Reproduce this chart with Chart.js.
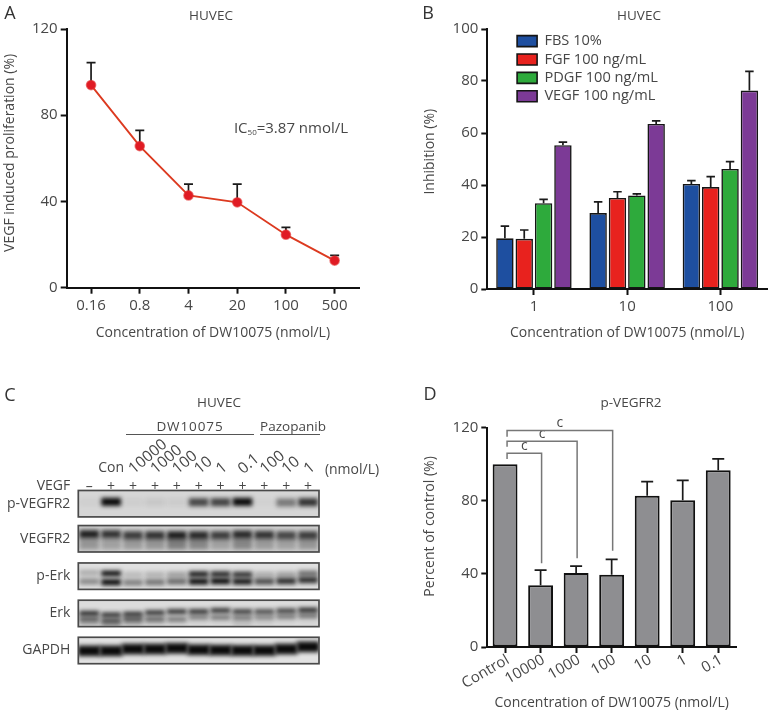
<!DOCTYPE html>
<html>
<head>
<meta charset="utf-8">
<title>DW10075 HUVEC panels</title>
<script src="https://cdn.jsdelivr.net/npm/chart.js@4/dist/chart.umd.js"></script>
<style>
  html, body { margin: 0; padding: 0; background: #fff; }
  body { position: relative; width: 773px; height: 715px; overflow: hidden; font-family: "Open Sans", sans-serif; color: #474747; }
  canvas { position: absolute; filter: blur(0.35px); }
  .t { position: absolute; transform: translate(-50%, -50%); font-size: 13.5px; white-space: nowrap; filter: blur(0.25px); }
  .letter { font-size: 18px; color: #333; }
  .rule { position: absolute; height: 1.4px; background: #555; }
  sub { font-size: 8px; vertical-align: baseline; position: relative; top: 2px; }
</style>
</head>
<body>
<canvas id="chartA" width="395" height="345" style="left:0;top:0"></canvas>
<canvas id="chartB" width="353" height="345" style="left:420px;top:0"></canvas>
<canvas id="chartC" width="395" height="300" style="left:0;top:385px"></canvas>
<canvas id="chartD" width="353" height="315" style="left:420px;top:400px"></canvas>

<div class="t letter" style="left:10px;top:12px">A</div>
<div class="t letter" style="left:428px;top:12px">B</div>
<div class="t letter" style="left:10px;top:394px">C</div>
<div class="t letter" style="left:430px;top:393px">D</div>
<div class="t" style="left:211px;top:15px">HUVEC</div>
<div class="t" style="left:639px;top:15px">HUVEC</div>
<div class="t" style="left:219px;top:402px">HUVEC</div>
<div class="t" style="left:631px;top:402px">p-VEGFR2</div>
<div class="t" style="left:291px;top:127px;font-size:15px">IC<sub>50</sub>=3.87 nmol/L</div>
<div class="t" style="left:190px;top:426px;letter-spacing:0.9px">DW10075</div>
<div class="t" style="left:293px;top:426px">Pazopanib</div>
<div class="rule" style="left:126px;top:434px;width:128px"></div>
<div class="rule" style="left:260px;top:434px;width:60px"></div>
<div class="t" style="left:53.5px;top:484px;font-size:14px">VEGF</div>
<div class="t" style="left:352px;top:468px;font-size:14px">(nmol/L)</div>

<script>
// Panel A
const doseLabelsA = ["0.16", "0.8", "4", "20", "100", "500"];
const proliferation = [94, 65.7, 42.8, 39.6, 24.6, 12.6];
const proliferationErr = [10.4, 7.3, 5.2, 8.4, 3.4, 2.4];

// Panel B
const doseLabelsB = ["1", "10", "100"];
const fbsValues = [19.5, 29.2, 40.4];
const fgfValues = [19.3, 35, 39.2];
const pdgfValues = [33, 36, 46.2];
const vegfValues = [55.3, 63.5, 76.3];
const fbsErr = [4.7, 4.3, 1.3];
const fgfErr = [3.4, 2.4, 4];
const pdgfErr = [1.5, 0.6, 2.8];
const vegfErr = [1.2, 1.2, 7.4];

// Panel D
const doseLabelsD = ["Control", "10000", "1000", "100", "10", "1", "0.1"];
const percentControl = [100, 33.8, 40.5, 39.6, 82.8, 80.3, 96.7];
const percentErr = [0, 8.3, 3.8, 8.4, 7.7, 10.9, 6.2];
const bracketTo = [1, 2, 3];
const bracketTop = [106, 112.6, 118.5];
const bracketLeftEnd = [102.9, 109.6, 115];
const bracketRightEnd = [45.8, 48.5, 52.7];

// Panel C, lane labels and band darkness (0-1) per lane
const vegfSigns = ["–", "+", "+", "+", "+", "+", "+", "+", "+", "+", "+"];
const laneLabels = ["", "Con", "10000", "1000", "100", "10", "1", "0.1", "100", "10", "1"];
const blotNames = ["p-VEGFR2", "VEGFR2", "p-Erk", "Erk", "GAPDH"];
const blotCenters = [0, 0.956, 1.975, 2.99, 4];
const pVegfr2Level = [0.03, 1, 0.04, 0.07, 0.05, 0.7, 0.72, 1, 0.02, 0.46, 0.8];
const pVegfr2Y = [-0.04, -0.05, -0.04, -0.04, -0.04, -0.04, -0.04, -0.05, -0.04, -0.03, -0.04];
const vegfr2Level = [0.9, 0.8, 0.75, 0.8, 0.9, 0.85, 0.75, 0.85, 0.8, 0.7, 0.75];
const vegfr2Y = [0.83, 0.83, 0.86, 0.86, 0.86, 0.86, 0.86, 0.84, 0.85, 0.86, 0.86];
const vegfr2SmearLevel = [0.3, 0.25, 0.28, 0.3, 0.42, 0.38, 0.25, 0.38, 0.28, 0.25, 0.3];
const vegfr2SmearY = [1.09, 1.09, 1.09, 1.09, 1.09, 1.09, 1.09, 1.09, 1.09, 1.09, 1.09];
const pErkUpperLevel = [0.25, 1, 0.18, 0.22, 0.3, 0.95, 0.9, 0.85, 0.25, 0.3, 0.55];
const pErkUpperY = [1.88, 1.9, 1.93, 1.93, 1.93, 1.92, 1.92, 1.93, 1.93, 1.93, 1.9];
const pErkLowerLevel = [0.4, 1, 0.45, 0.5, 0.55, 1, 1, 0.95, 0.7, 0.85, 0.85];
const pErkLowerY = [2.12, 2.14, 2.15, 2.14, 2.12, 2.12, 2.11, 2.12, 2.12, 2.11, 2.08];
const erkUpperLevel = [0.9, 0.85, 0.85, 0.85, 0.85, 0.85, 0.85, 0.8, 0.72, 0.78, 0.9];
const erkUpperY = [2.99, 3.03, 3.01, 2.97, 2.94, 2.94, 2.91, 2.94, 2.94, 2.92, 2.9];
const erkLowerLevel = [0.65, 0.72, 0.68, 0.6, 0.5, 0.45, 0.5, 0.5, 0.42, 0.48, 0.52];
const erkLowerY = [3.15, 3.19, 3.15, 3.15, 3.15, 3.1, 3.1, 3.11, 3.1, 3.08, 3.06];
const erkFaintLevel = [0.3, 0.45, 0.3, 0.12, 0.05, 0.05, 0.05, 0.22, 0.1, 0.05, 0.05];
const erkFaintY = [3.26, 3.29, 3.26, 3.26, 3.26, 3.26, 3.26, 3.27, 3.26, 3.26, 3.26];
const gapdhLevel = [1, 1, 1, 1, 1, 1, 1, 1, 1, 1, 1];
const gapdhY = [4.01, 4.01, 3.96, 3.96, 3.94, 3.98, 3.99, 4.0, 4.0, 3.96, 3.9];

const textColor = "#474747";
const axisColor = "#111";
const fontFamily = "'Open Sans', sans-serif";
const baseFont = { family: fontFamily, size: 14 };
const tickFont = { family: fontFamily, size: 15 };
const xTitle = "Concentration of DW10075 (nmol/L)";

// force the axis boxes so the plot area lands where it does in the figure
function fixedX(height) { return function (scale) { scale.height = height; }; }
function fixedY(width) { return function (scale) { scale.width = width; }; }

function xAxis(height, extraTicks) {
  return {
    type: "category",
    offset: true,
    afterFit: fixedX(height),
    grid: { drawOnChartArea: false, offset: false, color: axisColor, tickColor: axisColor, tickLength: 6, tickWidth: 2 },
    border: { color: axisColor, width: 2 },
    ticks: Object.assign({ color: textColor, font: tickFont, padding: 3, autoSkip: false, maxRotation: 0 }, extraTicks),
    title: { display: true, text: xTitle, color: textColor, font: baseFont, padding: { top: 0, bottom: 4 } },
  };
}

// lift = leading spaces, the y titles sit a little above the plot centre
function yAxis(width, max, step, title, lift) {
  return {
    min: 0,
    max: max,
    afterFit: fixedY(width),
    grid: { drawOnChartArea: false, color: axisColor, tickColor: axisColor, tickLength: 6, tickWidth: 2 },
    border: { color: axisColor, width: 2 },
    ticks: { stepSize: step, color: textColor, font: tickFont, padding: 3 },
    title: { display: true, text: " ".repeat(lift) + title, color: textColor, font: baseFont, padding: { top: 2, bottom: 0 } },
  };
}

// upward error bars, taken from each dataset's errorBars array
const errorBarPlugin = {
  id: "errorBars",
  beforeDatasetsDraw(chart) {
    const ctx = chart.ctx;
    const y = chart.scales.y;
    chart.data.datasets.forEach((ds, d) => {
      if (!ds.errorBars) return;
      chart.getDatasetMeta(d).data.forEach((el, i) => {
        if (!ds.errorBars[i]) return;
        const top = y.getPixelForValue(ds.data[i] + ds.errorBars[i]);
        const half = ds.errorCap / 2;
        ctx.save();
        ctx.strokeStyle = "#1a1a1a";
        ctx.lineWidth = 1.7;
        ctx.beginPath();
        ctx.moveTo(el.x, y.getPixelForValue(ds.data[i]));
        ctx.lineTo(el.x, top);
        ctx.moveTo(el.x - half, top);
        ctx.lineTo(el.x + half, top);
        ctx.stroke();
        ctx.restore();
      });
    });
  },
};

new Chart(document.getElementById("chartA"), {
  type: "line",
  data: {
    labels: doseLabelsA,
    datasets: [{
      data: proliferation,
      errorBars: proliferationErr,
      errorCap: 9,
      borderColor: "#dc3a20",
      borderWidth: 1.9,
      tension: 0,
      pointRadius: 4.6,
      pointBorderWidth: 1.5,
      pointBackgroundColor: "#e01b24",
      pointBorderColor: "rgba(226,50,50,0.6)",
    }],
  },
  options: {
    responsive: false,
    animation: false,
    layout: { padding: { top: 29, right: 36 } },
    plugins: { legend: { display: false }, tooltip: { enabled: false } },
    scales: {
      x: xAxis(57.3),
      y: yAxis(66.7, 120, 40, "VEGF induced proliferation (%)", 3),
    },
  },
  plugins: [errorBarPlugin],
});

function barSet(label, values, errs, color) {
  return {
    label: label,
    data: values,
    errorBars: errs,
    errorCap: 8.5,
    backgroundColor: color,
    borderColor: "#151515",
    borderWidth: 1.6,
    borderSkipped: false,
    categoryPercentage: 0.83,
    barPercentage: 0.9,
  };
}

new Chart(document.getElementById("chartB"), {
  type: "bar",
  data: {
    labels: doseLabelsB,
    datasets: [
      barSet("FBS 10%", fbsValues, fbsErr, "#1e4fa0"),
      barSet("FGF 100 ng/mL", fgfValues, fgfErr, "#e8221e"),
      barSet("PDGF 100 ng/mL", pdgfValues, pdgfErr, "#2eaa3c"),
      barSet("VEGF 100 ng/mL", vegfValues, vegfErr, "#7c3a96"),
    ],
  },
  options: {
    responsive: false,
    animation: false,
    layout: { padding: { top: 29, right: 6 } },
    plugins: {
      tooltip: { enabled: false },
      legend: {
        position: "chartArea",
        align: "start",
        labels: { boxWidth: 20, boxHeight: 11, padding: 3.8, color: textColor, font: { family: fontFamily, size: 14.6 } },
      },
    },
    scales: {
      x: xAxis(56),
      y: yAxis(67.3, 100, 20, "Inhibition (%)", 4),
    },
  },
  plugins: [errorBarPlugin, {
    id: "legendShift",
    afterLayout(chart) {
      chart.legend.left += 26;
      chart.legend.top += 30;
    },
  }],
});

new Chart(document.getElementById("chartD"), {
  type: "bar",
  data: {
    labels: doseLabelsD,
    datasets: [{
      data: percentControl,
      errorBars: percentErr,
      errorCap: 12,
      backgroundColor: "#8e8e91",
      borderColor: "#111",
      borderWidth: 2,
      borderSkipped: false,
      categoryPercentage: 1,
      barPercentage: 0.7,
    }],
  },
  options: {
    responsive: false,
    animation: false,
    layout: { padding: { top: 27.7, right: 37 } },
    plugins: { legend: { display: false }, tooltip: { enabled: false } },
    scales: {
      x: xAxis(68, { minRotation: 30, maxRotation: 30, padding: -2, labelOffset: 3 }),
      y: yAxis(67.3, 120, 40, "Percent of control (%)", 6),
    },
  },
  plugins: [errorBarPlugin, {
    id: "brackets",
    afterDatasetsDraw(chart) {
      const ctx = chart.ctx;
      const x = chart.scales.x;
      const y = chart.scales.y;
      ctx.save();
      ctx.strokeStyle = "#777";
      ctx.lineWidth = 1.5;
      ctx.fillStyle = textColor;
      ctx.font = "14px " + fontFamily;
      ctx.textAlign = "center";
      ctx.textBaseline = "middle";
      bracketTo.forEach((to, i) => {
        const left = x.getPixelForValue(0) + 2;
        const right = x.getPixelForValue(to) + 1;
        const top = y.getPixelForValue(bracketTop[i]);
        ctx.beginPath();
        ctx.moveTo(left, y.getPixelForValue(bracketLeftEnd[i]));
        ctx.lineTo(left, top);
        ctx.lineTo(right, top);
        ctx.lineTo(right, y.getPixelForValue(bracketRightEnd[i]));
        ctx.stroke();
        ctx.fillText("c", (left + right) / 2, top - 7);
      });
      ctx.restore();
    },
  }],
});

// Panel C: every band is a floating bar, blurred and clipped to its frame
function bandSet(levels, centers, half, width) {
  return {
    data: centers.map((c) => [c - half, c + half]),
    backgroundColor: levels.map((v) => "rgba(10,10,10," + v + ")"),
    categoryPercentage: 1,
    barPercentage: width || 0.9,
    grouped: false,
  };
}

const frameHalf = 0.36;
const frameFills = ["#d6d6d6", "#d2d2d2", "#e0e0e0", "#dcdcdc", "#e2e2e2"];

new Chart(document.getElementById("chartC"), {
  type: "bar",
  data: {
    labels: vegfSigns,
    datasets: [
      bandSet(pVegfr2Level, pVegfr2Y, 0.11),
      bandSet(vegfr2Level, vegfr2Y, 0.11),
      bandSet(vegfr2SmearLevel, vegfr2SmearY, 0.16),
      bandSet(pErkUpperLevel, pErkUpperY, 0.075),
      bandSet(pErkLowerLevel, pErkLowerY, 0.085),
      bandSet(erkUpperLevel, erkUpperY, 0.065),
      bandSet(erkLowerLevel, erkLowerY, 0.065),
      bandSet(erkFaintLevel, erkFaintY, 0.04),
      bandSet(gapdhLevel, gapdhY, 0.135, 1),
    ],
  },
  options: {
    responsive: false,
    animation: false,
    layout: { padding: { top: 85.7, right: 76, bottom: 21 } },
    plugins: { legend: { display: false }, tooltip: { enabled: false } },
    scales: {
      x: {
        type: "category",
        position: "top",
        offset: true,
        afterFit: fixedX(20),
        grid: { display: false, drawTicks: false },
        border: { display: false },
        ticks: { color: textColor, font: baseFont, padding: -5, autoSkip: false, maxRotation: 0 },
      },
      y: {
        type: "linear",
        reverse: true,
        min: -0.354,
        max: 4.368,
        afterFit: fixedY(78.3),
        afterBuildTicks(scale) { scale.ticks = blotCenters.map((v) => ({ value: v })); },
        grid: { display: false, drawTicks: false },
        border: { display: false },
        ticks: {
          color: textColor,
          font: baseFont,
          padding: 8,
          callback: (v) => blotNames[blotCenters.indexOf(v)],
        },
      },
    },
  },
  plugins: [{
    id: "blots",
    beforeDatasetsDraw(chart) {
      const ctx = chart.ctx;
      const { left, width } = chart.chartArea;
      const y = chart.scales.y;
      ctx.save();
      blotCenters.forEach((c, i) => {
        const top = y.getPixelForValue(c - frameHalf);
        ctx.fillStyle = frameFills[i];
        ctx.fillRect(left, top, width, y.getPixelForValue(c + frameHalf) - top);
      });
      ctx.beginPath();
      blotCenters.forEach((c) => {
        const top = y.getPixelForValue(c - frameHalf);
        ctx.rect(left, top, width, y.getPixelForValue(c + frameHalf) - top);
      });
      ctx.clip();
      ctx.filter = "blur(2.2px)";
    },
    afterDatasetsDraw(chart) {
      const ctx = chart.ctx;
      const { left, width } = chart.chartArea;
      const x = chart.scales.x;
      const y = chart.scales.y;
      ctx.restore();
      ctx.save();
      ctx.strokeStyle = "#4a4a4a";
      ctx.lineWidth = 1.7;
      blotCenters.forEach((c) => {
        const top = y.getPixelForValue(c - frameHalf);
        ctx.strokeRect(left, top, width, y.getPixelForValue(c + frameHalf) - top);
      });
      // lane labels above the VEGF row
      ctx.fillStyle = textColor;
      ctx.textBaseline = "middle";
      laneLabels.forEach((label, i) => {
        if (label === "Con") {
          ctx.font = "14px " + fontFamily;
          ctx.textAlign = "center";
          ctx.fillText(label, x.getPixelForValue(i), 83);
        } else if (label) {
          ctx.save();
          ctx.font = "15.5px " + fontFamily;
          ctx.translate(x.getPixelForValue(i) - 2, 86);
          ctx.rotate(-40 * Math.PI / 180);
          ctx.textAlign = "left";
          ctx.fillText(label, 0, 0);
          ctx.restore();
        }
      });
      ctx.restore();
    },
  }],
});
</script>
</body>
</html>
